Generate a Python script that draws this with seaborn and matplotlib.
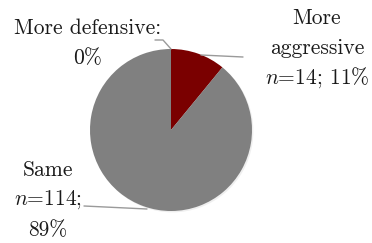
import matplotlib
matplotlib.use("Agg")
import matplotlib.pyplot as plt
import seaborn as sns

# === Data ===
categories = ["More aggressive", "Same", "More defensive"]
counts = [14, 114, 0]
shares = [11, 89, 0]
colors = ["#7a0000", "#808080", "#808080"]

sns.set_theme(style="white")
plt.rcParams["font.family"] = ["cmr10", "DejaVu Serif"]
plt.rcParams["mathtext.fontset"] = "cm"
plt.rcParams["axes.unicode_minus"] = False

fig = plt.figure(figsize=(3.72, 2.43), dpi=100)
ax = fig.add_axes([0, 0, 1, 1])

# pie drawn in pixel-like data space (y axis flipped -> counterclock=True goes clockwise on screen)
ax.pie(counts, colors=colors, startangle=-90, counterclock=True,
       center=(171, 130), radius=81, frame=True,
       wedgeprops=dict(linewidth=0),
       shadow=dict(ox=1, oy=1, shade=0.2, alpha=0.1))
ax.set_xlim(0, 372)
ax.set_ylim(243, 0)
ax.set_aspect("equal")
ax.axis("off")

fs = 15.5
lc = "#9a9a9a"
tc = "#1a1a1a"
# leader lines
ax.plot([155, 163, 171], [40, 40, 49], color=lc, lw=1)
ax.plot([201, 243], [55, 57], color=lc, lw=1)
ax.plot([84, 147], [206, 209], color=lc, lw=1)

kw = dict(ha="center", va="center", fontsize=fs, color=tc)
ax.text(88, 28, f"{categories[2]}:", **kw)
ax.text(88, 58, f"{shares[2]}%", **kw)

ax.text(317, 18, "More", **kw)
ax.text(317, 48, "aggressive", **kw)
ax.text(317, 78, f"$n$={counts[0]}; {shares[0]}%", **kw)

ax.text(48, 170, categories[1], **kw)
ax.text(48, 200, f"$n$={counts[1]};", **kw)
ax.text(48, 230, f"{shares[1]}%", **kw)

fig.savefig("out.png", dpi=100, facecolor="white")
